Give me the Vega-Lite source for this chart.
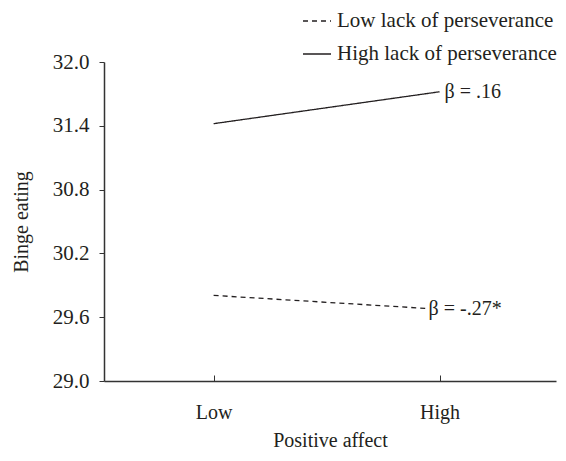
{
  "$schema": "https://vega.github.io/schema/vega-lite/v6.json",
  "width": 452,
  "height": 319,
  "autosize": {"type": "none"},
  "padding": {"left": 104, "top": 62, "right": 10, "bottom": 80},
  "background": "white",
  "config": {
    "view": {"stroke": null},
    "font": "Liberation Serif",
    "axis": {"labelFont": "Liberation Serif", "titleFont": "Liberation Serif", "labelColor": "#231f20", "titleColor": "#231f20", "titleFontWeight": "normal", "domainColor": "#333", "tickColor": "#333", "grid": false, "labelFontSize": 20, "titleFontSize": 20},
    "legend": {"labelFont": "Liberation Serif", "labelColor": "#231f20"}
  },
  "data": {
    "values": [
      {"pa": "Low", "lp": "Low", "be": 29.805, "label": ""},
      {"pa": "High", "lp": "Low", "be": 29.675, "label": "β = -.27*"},
      {"pa": "Low", "lp": "High", "be": 31.42, "label": ""},
      {"pa": "High", "lp": "High", "be": 31.72, "label": "β = .16"}
    ]
  },
  "encoding": {
    "x": {"field": "pa", "type": "ordinal", "sort": ["Low", "High"], "scale": {"type": "point", "padding": 0.5, "align": 0.485},
      "axis": {"title": "Positive affect", "labelAngle": 0, "tickSize": -6, "labelPadding": 27, "titlePadding": 8, "domainWidth": 1.5, "tickWidth": 1}},
    "y": {"field": "be", "type": "quantitative", "scale": {"domain": [29, 32], "zero": false, "nice": false},
      "axis": {"title": "Binge eating", "values": [29, 29.6, 30.2, 30.8, 31.4, 32], "format": ".1f", "labelFontSize": 21, "tickSize": 5, "labelPadding": 10, "titlePadding": 21, "domainWidth": 1.5}}
  },
  "layer": [
    {
      "mark": {"type": "line", "color": "#231f20", "strokeWidth": 1.3},
      "encoding": {
        "detail": {"field": "lp"},
        "strokeDash": {"field": "lp", "type": "nominal", "sort": ["Low", "High"],
          "scale": {"domain": ["Low", "High"], "range": [[5, 4], [1, 0]]},
          "legend": {"title": null, "orient": "none", "legendX": 198, "legendY": -56, "symbolType": "stroke", "symbolSize": 784, "symbolStrokeColor": "#231f20", "symbolStrokeWidth": 1.3, "labelFontSize": 21, "labelOffset": 5, "labelLimit": 400, "rowPadding": 8,
            "labelExpr": "datum.label == 'Low' ? 'Low lack of perseverance' : 'High lack of perseverance'"}}
      }
    },
    {
      "transform": [{"filter": "datum.lp == 'Low' && datum.label != ''"}],
      "mark": {"type": "text", "align": "left", "baseline": "middle", "fontSize": 20, "stroke": "white", "strokeWidth": 6, "fill": "white", "font": "Liberation Serif", "dx": -11},
      "encoding": {"text": {"field": "label"}}
    },
    {
      "transform": [{"filter": "datum.lp == 'Low' && datum.label != ''"}],
      "mark": {"type": "text", "align": "left", "baseline": "middle", "fontSize": 20, "color": "#231f20", "font": "Liberation Serif", "dx": -11},
      "encoding": {"text": {"field": "label"}}
    },
    {
      "transform": [{"filter": "datum.lp == 'High' && datum.label != ''"}],
      "mark": {"type": "text", "align": "left", "baseline": "middle", "fontSize": 20, "color": "#231f20", "font": "Liberation Serif", "dx": 5},
      "encoding": {"text": {"field": "label"}}
    }
  ]
}
